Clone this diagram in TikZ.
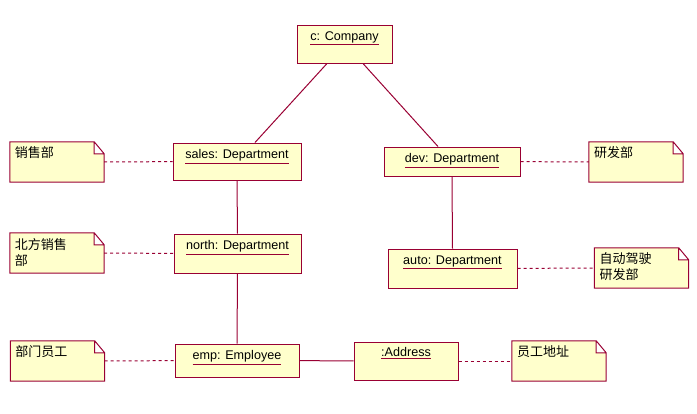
\documentclass[tikz,border=0pt]{standalone}
\usepackage{fontspec}
\setmainfont{Liberation Sans}
\newfontfamily\cjk{Noto Sans CJK SC}
\usetikzlibrary{backgrounds}
\definecolor{umlred}{RGB}{153,0,51}
\definecolor{umlfill}{RGB}{255,255,204}
\newcommand{\objname}[1]{\textcolor{umlred}{\underline{\textcolor{black}{#1}}}}
\tikzset{
  obj/.style={draw=umlred,fill=umlfill,line width=1pt,rectangle,inner sep=0pt},
  objtext/.style={anchor=north,inner sep=0pt,yshift=-7pt,font=\fontsize{12.6}{14}\selectfont},
  note/.style={rectangle,inner sep=0pt,minimum width=94pt,minimum height=40pt},
  notetext/.style={anchor=north west,inner sep=0pt,xshift=5pt,yshift=-5pt,align=left,font=\cjk\fontsize{13}{16}\selectfont},
  link/.style={umlred,line width=1pt},
  notelink/.style={umlred,line width=1pt,dash pattern=on 3pt off 3pt}
}
\begin{document}
\begin{tikzpicture}[x=1pt,y=-1pt]
            \useasboundingbox (0,0) rectangle (697,413);
            % objects
            \node[obj,minimum width=95pt,minimum height=38pt,label={[objtext]north:\objname{c: Company}}] (comp) at (344.5,44) {};
            \node[obj,minimum width=128pt,minimum height=37pt,label={[objtext]north:\objname{sales: Department}}] (sales) at (237,161.5) {};
            \node[obj,minimum width=136pt,minimum height=29pt,label={[objtext]north:\objname{dev: Department}}] (dev) at (452,161.5) {};
            \node[obj,minimum width=127pt,minimum height=39pt,label={[objtext]north:\objname{north: Department}}] (north) at (237.5,253.5) {};
            \node[obj,minimum width=129pt,minimum height=39pt,label={[objtext]north:\objname{auto: Department}}] (auto) at (452.5,268.5) {};
            \node[obj,minimum width=124pt,minimum height=33pt,label={[objtext]north:\objname{emp: Employee}}] (emp) at (237,360.5) {};
            \node[obj,minimum width=104pt,minimum height=38pt,label={[objtext,yshift=1pt]north:\objname{:Address}}] (addr) at (406,361) {};
            % notes
            \node[note,label={[notetext]north west:销售部}] (n1) at (57,162) {};
            \node[note,label={[notetext]north west:北方销售\\部}] (n2) at (57,253) {};
            \node[note,label={[notetext]north west:部门员工}] (n3) at (57.5,361) {};
            \node[note,label={[notetext]north west:研发部}] (n4) at (636,162) {};
            \node[note,label={[notetext]north west:自动驾驶\\研发部}] (n5) at (641.5,268) {};
            \node[note,label={[notetext]north west:员工地址}] (n6) at (559,361) {};
            \begin{scope}[on background layer]
              \foreach \n in {n1,n2,n3,n4,n5,n6}
                \draw[link,fill=umlfill] (\n.south west) -- (\n.north west) -- ([xshift=-10pt]\n.north east)
                  -- ([yshift=-12pt]\n.north east) -- (\n.south east) -- cycle
                  ([xshift=-10pt]\n.north east) |- ([yshift=-12pt]\n.north east);
            \end{scope}
            % links
            \draw[link] ([xshift=-17.5pt]comp.south) -- ([xshift=18pt]sales.north);
            \draw[link] ([xshift=18.5pt]comp.south) -- ([xshift=-14pt]dev.north);
            \draw[link] (sales.south) -- (north.north);
            \draw[link] (north.south) -- (emp.north);
            \draw[link] (dev.south) -- (auto.north);
            \draw[link] (emp) -- (addr);
            \draw[notelink] (n1) -- (sales);
            \draw[notelink] (n2) -- (north);
            \draw[notelink] (n3) -- (emp);
            \draw[notelink] (dev) -- (n4);
            \draw[notelink] (auto) -- (n5);
            \draw[notelink] (addr) -- (n6);
\end{tikzpicture}
\end{document}
